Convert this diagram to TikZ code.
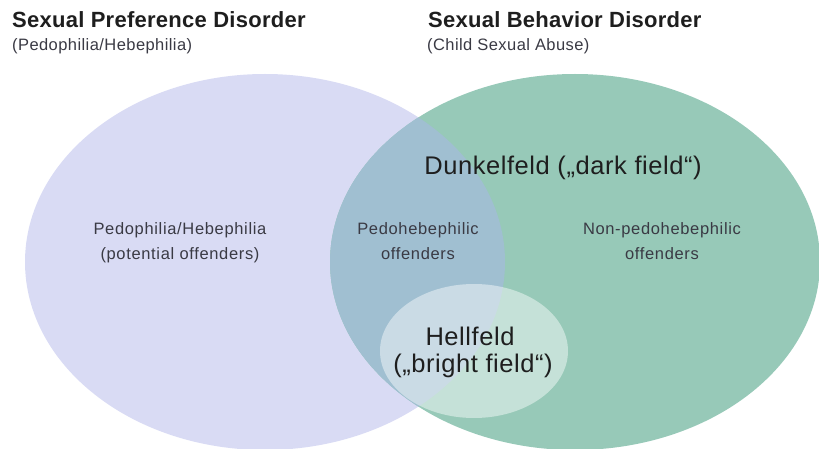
\documentclass[tikz,border=0pt]{standalone}
\usepackage{fontspec}
\setmainfont{Liberation Sans}
\definecolor{lav}{HTML}{D9DBF4}
\definecolor{grn}{HTML}{97C9B8}
\definecolor{ovl}{HTML}{A0BFD1}
\definecolor{txtdark}{HTML}{1E1E1E}
\definecolor{txtmid}{HTML}{3A3A44}
\begin{document}
\begin{tikzpicture}[x=1pt,y=-1pt,
  title/.style={inner sep=0pt,anchor=base west,text=txtdark,font=\fontsize{22}{26}\selectfont\bfseries\addfontfeature{LetterSpace=1.2}},
  subtitle/.style={inner sep=0pt,anchor=base west,text=txtmid,font=\fontsize{16.5}{20}\selectfont\addfontfeature{LetterSpace=2.6}},
  label/.style={inner sep=0pt,anchor=base,text=txtmid,font=\fontsize{16.5}{20}\selectfont\addfontfeature{LetterSpace=4}},
  biglabel/.style={inner sep=0pt,anchor=base,text=txtdark,font=\fontsize{25.5}{30}\selectfont\addfontfeature{LetterSpace=2.2}}]
\useasboundingbox (0,0) rectangle (819,449);
% sets
\fill[lav] (265,262) ellipse [x radius=240pt, y radius=188pt];
\fill[grn] (575,262) ellipse [x radius=245pt, y radius=188pt];
\begin{scope}
  \clip (265,262) ellipse [x radius=240pt, y radius=188pt];
  \fill[ovl] (575,262) ellipse [x radius=245pt, y radius=188pt];
\end{scope}
\fill[white,opacity=0.45] (474,351) ellipse [x radius=94pt, y radius=67pt];
% titles
\node[title] (t1) at (12,28) {Sexual Preference Disorder};
\node[subtitle] (s1) at (12,51) {(Pedophilia/Hebephilia)};
\node[title] (t2) at (428,28) {Sexual Behavior Disorder};
\node[subtitle] (s2) at (427,51) {(Child Sexual Abuse)};
% labels
\node[label] (pa) at (180,234) {Pedophilia/Hebephilia};
\node[label] (pb) at (180,259) {(potential offenders)};
\node[label] (ha) at (418,234) {Pedohebephilic};
\node[label] (hb) at (418,259) {offenders};
\node[label] (na) at (662,234) {Non-pedohebephilic};
\node[label] (nb) at (662,259) {offenders};
\node[biglabel] (dk) at (563,175) {Dunkelfeld („dark field“)};
\node[biglabel] (ha2) at (470,345) {Hellfeld};
\node[biglabel] (hb2) at (473,372) {(„bright field“)};
\end{tikzpicture}
\end{document}
